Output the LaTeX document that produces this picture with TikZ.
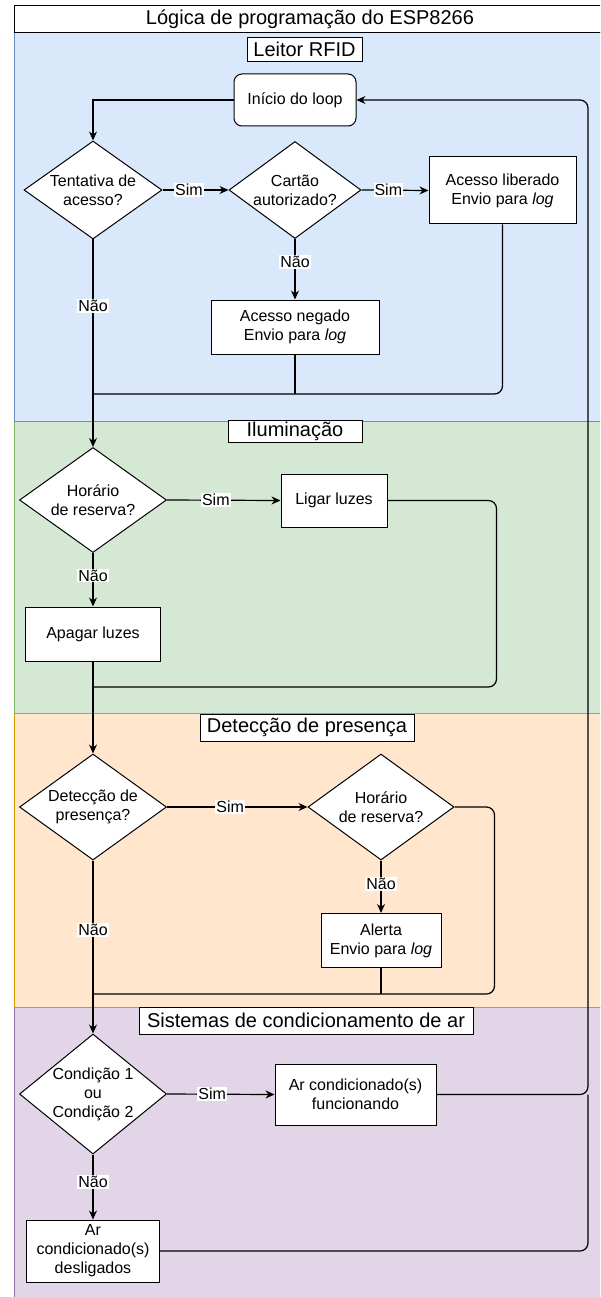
\documentclass[tikz,border=0pt]{standalone}
\usepackage{fontspec}
\setmainfont{Liberation Sans}
\usetikzlibrary{arrows.meta,shapes.geometric}

\definecolor{blueband}{HTML}{DAE8FC}
\definecolor{blueline}{HTML}{6C8EBF}
\definecolor{greenband}{HTML}{D5E8D4}
\definecolor{greenline}{HTML}{82B366}
\definecolor{orangeband}{HTML}{FFE6CC}
\definecolor{orangeline}{HTML}{D79B00}
\definecolor{purpleband}{HTML}{E1D5E7}
\definecolor{purpleline}{HTML}{9673A6}

\begin{document}
\begin{tikzpicture}[x=1pt,y=-1pt]

\tikzset{box/.style = {shape=rectangle,draw,line width=1pt,fill=white,align=center,inner sep=2pt,font=\fontsize{16}{19}\selectfont}}
\tikzset{decision/.style = {shape=diamond,draw,line width=1pt,fill=white,align=center,inner sep=-8pt,font=\fontsize{16}{19}\selectfont}}
\tikzset{lanetitle/.style = {shape=rectangle,draw,line width=1pt,fill=white,inner xsep=2pt,inner ysep=0pt,font=\fontsize{20}{24}\selectfont}}
\tikzset{edge/.style = {->,> = {Stealth[length=9pt,width=8pt]},line width=1.2pt}}
\tikzset{link/.style = {line width=1.2pt}}
\tikzset{answer/.style = {fill=white,inner sep=1pt,font=\fontsize{16}{19}\selectfont}}

\useasboundingbox (0,0) rectangle (600,1297);
\clip (0,0) rectangle (600,1297);

% lanes, from the bottom up so the upper border stays on top
\foreach \ya/\yb/\fc/\lc in {1007.3/1310/purpleband/purpleline, 713.5/1007.3/orangeband/orangeline,
  421/713.5/greenband/greenline, 32.3/421/blueband/blueline}
\filldraw[fill=\fc, draw=\lc, line width=0.8pt] (14.5,\ya) rectangle (606,\yb);

\node[lanetitle, minimum width=591, minimum height=26.6] (title) at (310,19) {Lógica de programação do ESP8266};

\foreach \pos/\w/\h/\name/\txt in {{(304.5,49.5)/115/24/lane1/Leitor RFID}, {(295,431.5)/134/22/lane2/Iluminação},
  {(307,727.5)/214/27/lane3/Detecção de presença}, {(306,1020.7)/334/27/lane4/Sistemas de condicionamento de ar}}
\node[lanetitle, minimum width=\w, minimum height=\h] (\name) at \pos {\txt};

% Leitor RFID
\node[box, rounded corners=8pt, minimum width=122, minimum height=52] (inicio) at (295,100) {Início do loop};
\node[decision, minimum width=138, minimum height=98] (tentativa) at (93,190) {Tentativa de\\acesso?};
\node[decision, minimum width=132, minimum height=97] (cartao) at (295,190) {Cartão\\autorizado?};
\node[box, minimum width=147, minimum height=67] (liberado) at (502.5,190.5) {Acesso liberado\\Envio para \textit{log}};
\node[box, minimum width=168, minimum height=54] (negado) at (295,327) {Acesso negado\\Envio para \textit{log}};

% Iluminacao
\node[decision, minimum width=147, minimum height=105] (horario) at (93,500) {Horário\\de reserva?};
\node[box, minimum width=106, minimum height=53] (ligar) at (334,500.5) {Ligar luzes};
\node[box, minimum width=135, minimum height=54] (apagar) at (93,634) {Apagar luzes};

% Deteccao de presenca
\node[decision, minimum width=147, minimum height=106] (presenca) at (93,807) {Detecção de\\presença?};
\node[decision, minimum width=146, minimum height=106] (horario2) at (381,807) {Horário\\de reserva?};
\node[box, minimum width=120, minimum height=54] (alerta) at (381,940.5) {Alerta\\Envio para \textit{log}};

% Ar condicionado
\node[decision, minimum width=147, minimum height=120] (condicao) at (93,1094) {Condição 1\\ou\\Condição 2};
\node[box, minimum width=161, minimum height=61] (funcionando) at (355.5,1094.5) {Ar condicionado(s)\\funcionando};
\node[box, minimum width=133, minimum height=62] (desligados) at (93,1251) {Ar\\condicionado(s)\\desligados};

\coordinate (join1) at (93,394);
\coordinate (join2) at (93,687);
\coordinate (join3) at (93,994);
\coordinate (back) at (588,100);

\draw[edge] (inicio.west) -| (tentativa.north);
\draw[edge] (tentativa.east) -- node[answer, pos=0.4] {Sim} (cartao.west);
\draw[edge] (cartao.east) -- node[answer, pos=0.4] {Sim} (liberado.west);
\draw[edge] (cartao.south) -- node[answer, pos=0.38] {Não} (negado.north);
\draw[link] (negado.south) -- (negado.south |- join1);
\draw[link, rounded corners=8pt] (liberado.south) |- (join1);
\draw[edge] (tentativa.south) -- node[answer, pos=0.32] {Não} (horario.north);

\draw[edge] (horario.east) -- node[answer, pos=0.43] {Sim} (ligar.west);
\draw[edge] (horario.south) -- node[answer, pos=0.42] {Não} (apagar.north);
\draw[link, rounded corners=8pt] (ligar.east) -- ++(109,0) |- (join2);
\draw[edge] (apagar.south) -- (presenca.north);

\draw[edge] (presenca.east) -- node[answer, pos=0.45] {Sim} (horario2.west);
\draw[edge] (horario2.south) -- node[answer, pos=0.45] {Não} (alerta.north);
\draw[link, rounded corners=8pt] (horario2.east) -- ++(40,0) |- (join3);
\draw[link] (alerta.south) -- (alerta.south |- join3);
\draw[edge] (presenca.south) -- node[answer, pos=0.4] {Não} (condicao.north);

\draw[edge] (condicao.east) -- node[answer, pos=0.42] {Sim} (funcionando.west);
\draw[edge] (condicao.south) -- node[answer, pos=0.42] {Não} (desligados.north);
\draw[link, rounded corners=8pt] (desligados.east) -| (funcionando.east -| back);
\draw[edge, rounded corners=8pt] (funcionando.east) -| (back) -- (inicio.east);
\end{tikzpicture}
\end{document}
